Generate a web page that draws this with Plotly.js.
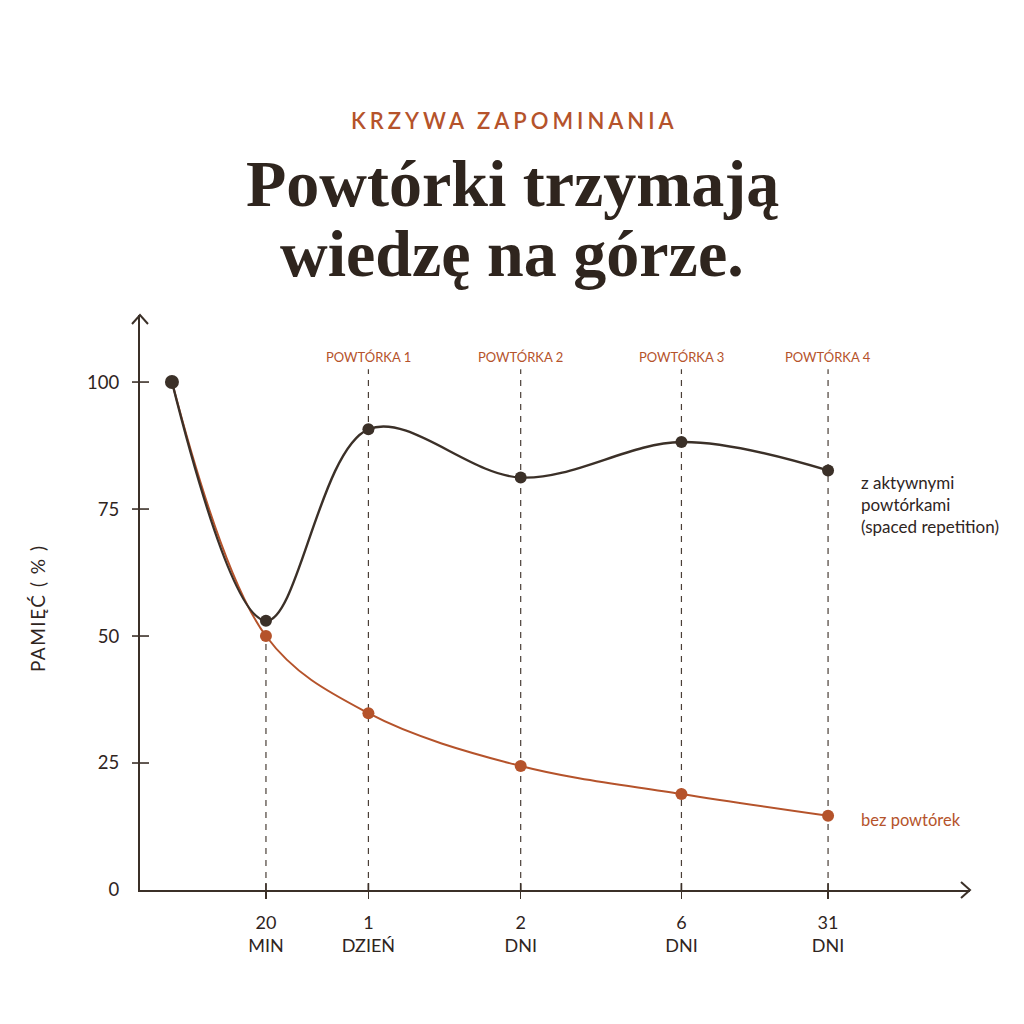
<!DOCTYPE html>
<html>
<head>
<meta charset="utf-8">
<script src="https://cdn.plot.ly/plotly-3.0.1.min.js"></script>
<style>
  html, body { margin: 0; padding: 0; background: #ffffff; }
  #chart { width: 1024px; height: 1024px; }
</style>
</head>
<body>
<div id="chart"></div>
<script>
// Forgetting curve: memory retention over time, with and without spaced reviews
const timeLabels = ['start', '20<br>MIN', '1<br>DZIEŃ', '2<br>DNI', '6<br>DNI', '31<br>DNI'];
const timePos = [0, 1, 2.09, 3.71, 5.42, 6.98];
const withReviews = [100, 53, 90.7, 81.2, 88.2, 82.6];
const withoutReviews = [100, 50, 34.8, 24.4, 18.9, 14.6];
const reviewLabels = ['POWTÓRKA 1', 'POWTÓRKA 2', 'POWTÓRKA 3', 'POWTÓRKA 4'];
const yTicks = [0, 25, 50, 75, 100];

const INK = '#2f251e';
const LINE_DARK = '#3b3028';
const RUST = '#b5532b';
const GUIDE = '#4a3f37';
const SANS = 'Lato, "Open Sans", sans-serif';
const SERIF = '"Liberation Serif", "DejaVu Serif", serif';

const guideTop = 102.5;   // upper end of the review guide lines
const reviewLabelY = 105; // level of the review captions
const centerShift = -43;  // from plot-area centre to page centre

const traces = [
  {
    x: timePos, y: withoutReviews, type: 'scatter', mode: 'lines+markers',
    line: { color: RUST, width: 2, shape: 'spline', smoothing: 1 },
    marker: { color: RUST, size: 12, opacity: 1, line: { width: 0 } },
    cliponaxis: false, hoverinfo: 'skip'
  },
  {
    x: timePos, y: withReviews, type: 'scatter', mode: 'lines+markers',
    line: { color: LINE_DARK, width: 2.4, shape: 'spline', smoothing: 1 },
    marker: {
      color: LINE_DARK, opacity: 1, line: { width: 0 },
      size: withReviews.map((v, i) => i === 0 ? 14 : 12)
    },
    cliponaxis: false, hoverinfo: 'skip'
  }
];

const shapes = [];
// vertical dashed guides at each time mark
timePos.slice(1).forEach((x, i) => {
  const top = i === 0 ? withoutReviews[1] : guideTop;
  shapes.push({
    type: 'line', xref: 'x', yref: 'y', x0: x, x1: x, y0: 0, y1: top,
    line: { color: GUIDE, width: 1.2, dash: '6px,6px' }, layer: 'below'
  });
  // upper half of the tick crossing the time axis
  shapes.push({
    type: 'line', xref: 'x', yref: 'y', ysizemode: 'pixel',
    yanchor: 0, x0: x, x1: x, y0: 0, y1: 7,
    line: { color: LINE_DARK, width: 1.6 }
  });
});
// ticks crossing the memory axis
yTicks.slice(1).forEach(v => {
  shapes.push({
    type: 'line', xref: 'paper', yref: 'y', xsizemode: 'pixel', ysizemode: 'pixel',
    xanchor: 0, yanchor: v, x0: -8, x1: 9, y0: 0, y1: 0,
    line: { color: LINE_DARK, width: 1.6 }
  });
});
// open arrowheads on both axes
shapes.push({
  type: 'path', xref: 'paper', yref: 'paper', xsizemode: 'pixel', ysizemode: 'pixel',
  xanchor: 1, yanchor: 0, path: 'M-9,-8 L0,0 L-9,8',
  line: { color: LINE_DARK, width: 2 }
});
shapes.push({
  type: 'path', xref: 'paper', yref: 'paper', xsizemode: 'pixel', ysizemode: 'pixel',
  xanchor: 0, yanchor: 1, path: 'M-8,-9 L0,0 L8,-9',
  line: { color: LINE_DARK, width: 2 }
});

const annotations = [
  {
    text: '<span style="letter-spacing:4px">KRZYWA ZAPOMINANIA</span>',
    xref: 'paper', yref: 'paper', x: 0.5, y: 1, xshift: centerShift + 2, yshift: 195,
    xanchor: 'center', yanchor: 'middle',
    showarrow: false, font: { family: SANS, size: 22, color: RUST, weight: 600 }
  },
  {
    text: '<b>Powtórki trzymają</b>',
    xref: 'paper', yref: 'paper', x: 0.5, y: 1, xshift: centerShift, yshift: 132,
    xanchor: 'center', yanchor: 'middle',
    showarrow: false, font: { family: SERIF, size: 66, color: INK }
  },
  {
    text: '<b>wiedzę na górze.</b>',
    xref: 'paper', yref: 'paper', x: 0.5, y: 1, xshift: centerShift, yshift: 62,
    xanchor: 'center', yanchor: 'middle',
    showarrow: false, font: { family: SERIF, size: 66, color: INK }
  },
  {
    text: '<span style="letter-spacing:1.5px">PAMIĘĆ ( % )</span>', textangle: -90,
    xref: 'paper', yref: 'y', x: 0, y: 55.5, xshift: -103, xanchor: 'center', yanchor: 'middle',
    showarrow: false, font: { family: SANS, size: 19, color: INK }
  },
  {
    text: 'z aktywnymi<br>powtórkami<br><span style="font-size:17px">(spaced repetition)</span>',
    xref: 'x', yref: 'y', x: timePos[5], y: withReviews[5], xshift: 31, yshift: 0,
    xanchor: 'left', yanchor: 'top', align: 'left',
    showarrow: false, font: { family: SANS, size: 17, color: INK }
  },
  {
    text: 'bez powtórek',
    xref: 'x', yref: 'y', x: timePos[5], y: withoutReviews[5], xshift: 31, yshift: -4,
    xanchor: 'left', yanchor: 'middle', align: 'left',
    showarrow: false, font: { family: SANS, size: 16.5, color: RUST }
  }
];
reviewLabels.forEach((t, i) => {
  annotations.push({
    text: t, xref: 'x', yref: 'y', x: timePos[i + 2], y: reviewLabelY,
    xanchor: 'center', yanchor: 'middle', showarrow: false,
    font: { family: SANS, size: 13, color: RUST }
  });
});

const layout = {
  width: 1024, height: 1024,
  paper_bgcolor: '#ffffff', plot_bgcolor: '#ffffff',
  margin: { l: 140, r: 54, t: 315, b: 134 },
  showlegend: false,
  xaxis: {
    range: [-0.34, 8.49], showgrid: false, zeroline: false,
    showline: true, linecolor: LINE_DARK, linewidth: 2,
    tickvals: timePos.slice(1), ticktext: timeLabels.slice(1),
    ticks: 'outside', ticklen: 7, tickwidth: 1.6, tickcolor: LINE_DARK,
    ticklabelstandoff: 8,
    tickfont: { family: SANS, size: 18, color: INK }
  },
  yaxis: {
    range: [0, 113.2], showgrid: false, zeroline: false,
    showline: true, linecolor: LINE_DARK, linewidth: 2,
    tickvals: yTicks, ticks: '', ticklabelstandoff: 15,
    tickfont: { family: SANS, size: 18.5, color: INK }
  },
  shapes: shapes,
  annotations: annotations
};

Plotly.newPlot('chart', traces, layout, { displayModeBar: false, staticPlot: true });
</script>
</body>
</html>
